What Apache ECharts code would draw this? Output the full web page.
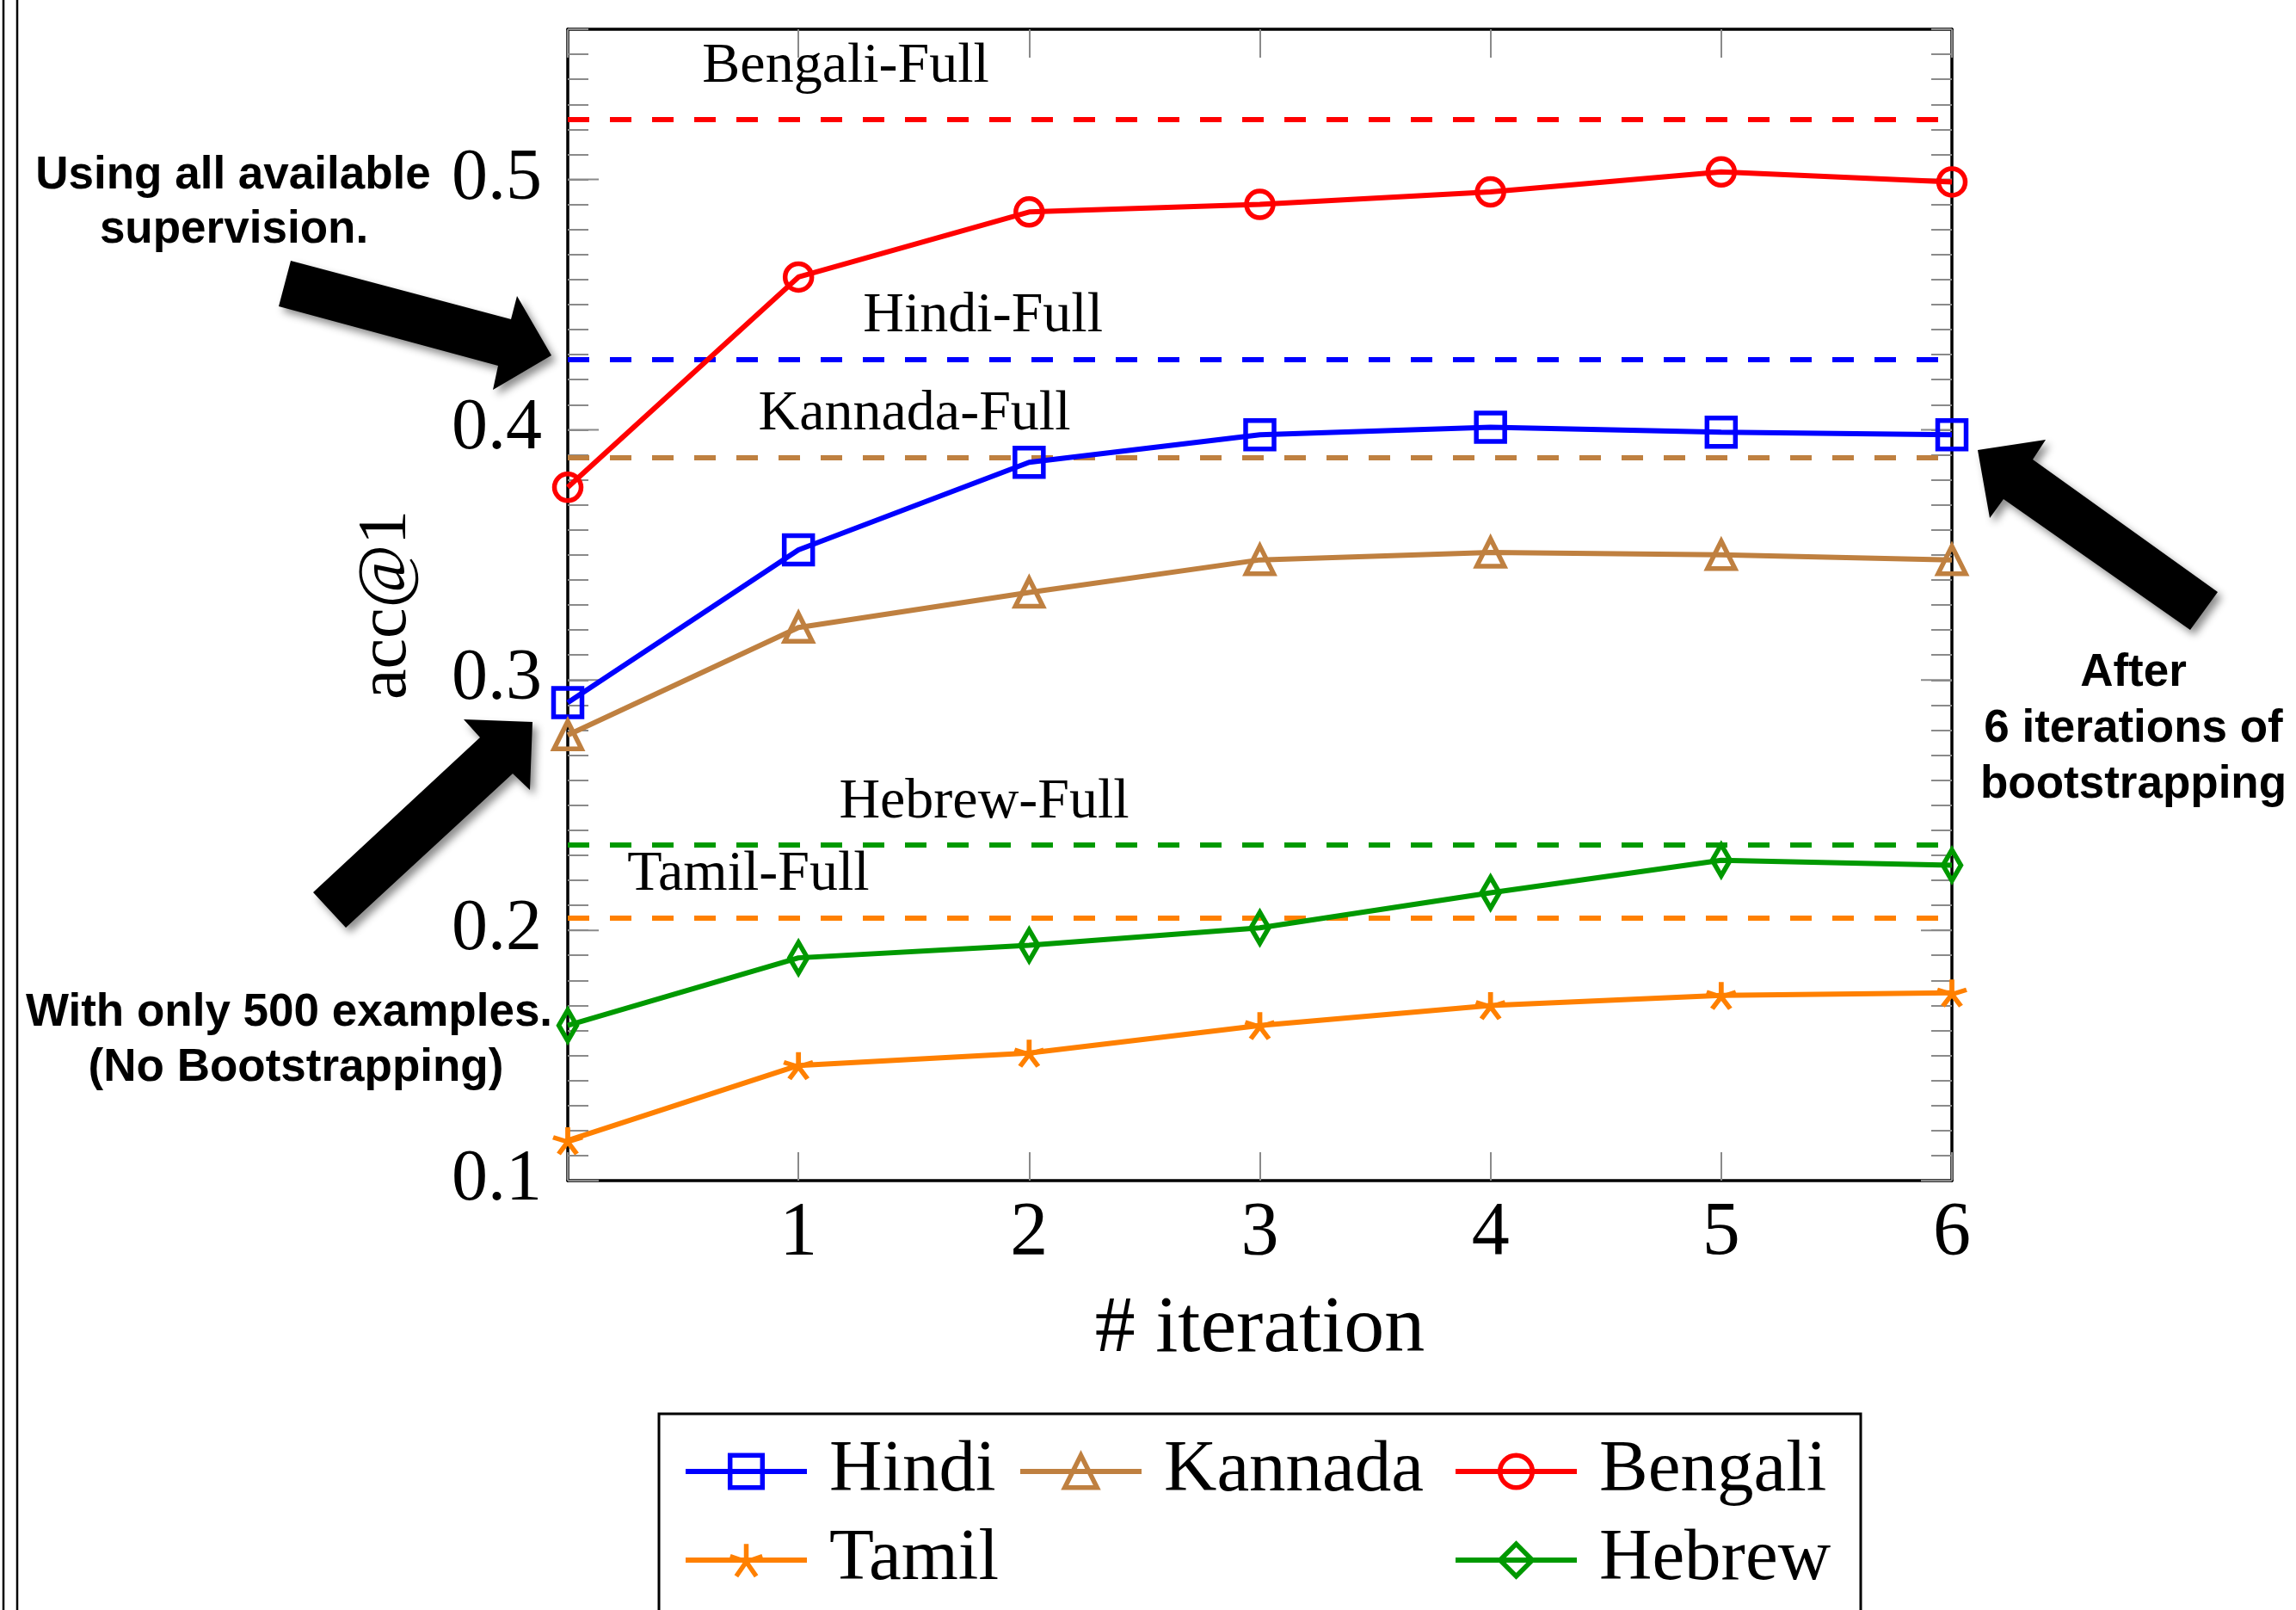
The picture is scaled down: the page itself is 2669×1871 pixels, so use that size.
<!DOCTYPE html>
<html>
<head>
<meta charset="utf-8">
<script src="https://cdn.jsdelivr.net/npm/echarts@6/dist/echarts.min.js"></script>
<style>
html,body{margin:0;padding:0;background:#fff;}
#chart{width:2669px;height:1871px;}
</style>
</head>
<body>
<div id="chart"></div>
<script>
// ---- data ----
var iterations = [0, 1, 2, 3, 4, 5, 6];
var hindi   = [0.291, 0.352, 0.387, 0.398, 0.401, 0.399, 0.398];
var kannada = [0.278, 0.321, 0.335, 0.348, 0.351, 0.350, 0.348];
var bengali = [0.377, 0.461, 0.487, 0.490, 0.495, 0.503, 0.499];
var tamil   = [0.116, 0.146, 0.151, 0.162, 0.170, 0.174, 0.175];
var hebrew  = [0.162, 0.189, 0.194, 0.201, 0.215, 0.228, 0.226];
var seriesNames = ['Hindi', 'Kannada', 'Bengali', 'Tamil', 'Hebrew'];
var fullNames = ['Hindi-Full', 'Kannada-Full', 'Bengali-Full', 'Tamil-Full', 'Hebrew-Full'];
var fullValues = [0.428, 0.389, 0.524, 0.205, 0.234];
var yMajorTicks = [0.1, 0.2, 0.3, 0.4, 0.5];
var yTickLabels = ['0.1', '0.2', '0.3', '0.4', '0.5'];
var xTickLabels = ['1', '2', '3', '4', '5', '6'];

// ---- styling / layout ----
var serif = 'Liberation Serif';
var sans = 'Liberation Sans';
var colors = ['#0000FF', '#BF8040', '#FF0000', '#FF8000', '#009900'];
var symbols = [
  'rect',
  'triangle',
  'circle',
  'path://M0,0 L0,-1 M0,0 L0.951,-0.309 M0,0 L0.588,0.809 M0,0 L-0.588,0.809 M0,0 L-0.951,-0.309',
  'path://M0,-19 L11,0 L0,19 L-11,0 Z'
];
var symbolSizes = [33, 32, 31, [34, 31], 36];
var lineW = 6;
var markW = 5.5;
// label anchors (data coords) for the "-Full" reference line captions
var fullLabelAnchor = [[1.80, 0.4452], [1.503, 0.4062], [1.205, 0.545], [0.783, 0.2222], [1.805, 0.2509]];
var dataSets = [hindi, kannada, bengali, tamil, hebrew];

function pairs(arr) { return iterations.map(function (x, i) { return [x, arr[i]]; }); }

var series = seriesNames.map(function (name, i) {
  return {
    name: name,
    type: 'line',
    data: pairs(dataSets[i]),
    xAxisIndex: 0,
    yAxisIndex: 0,
    clip: false,
    symbol: symbols[i],
    symbolSize: symbolSizes[i],
    symbolKeepAspect: i === 4,
    showAllSymbol: true,
    lineStyle: { color: colors[i], width: lineW },
    itemStyle: { color: 'transparent', borderColor: colors[i], borderWidth: markW },
    emphasis: { disabled: true },
    animation: false,
    z: 3,
    markLine: {
      silent: true,
      precision: 4,
      symbol: ['none', 'none'],
      label: { show: false },
      lineStyle: { color: colors[i], width: 6, type: [25, 24] },
      data: [{ yAxis: fullValues[i] }],
      animation: false,
      z: 2
    },
    markPoint: {
      silent: true,
      animation: false,
      data: [{
        coord: fullLabelAnchor[i],
        symbol: 'rect',
        symbolSize: 1,
        itemStyle: { color: 'transparent' },
        label: {
          show: true, position: 'inside', formatter: fullNames[i],
          color: '#000', fontSize: 66, fontFamily: serif
        }
      }]
    }
  };
});

function isMajor(v) { return Math.abs(v * 10 - Math.round(v * 10)) < 1e-6 && v < 0.555; }

var tickGray = '#8a8a8a';
var frame = { show: true, onZero: false, lineStyle: { color: '#000', width: 3.5 } };

var legendCols = [794, 1183, 1689];
var legendRows = [1710, 1813];
var legendPlace = [[0, 0], [1, 0], [2, 0], [0, 1], [2, 1]];
var legends = seriesNames.map(function (name, i) {
  return {
    data: [name],
    left: legendCols[legendPlace[i][0]],
    top: legendRows[legendPlace[i][1]] - 45,
    orient: 'horizontal',
    itemWidth: 141,
    itemHeight: 47,
    selectedMode: false,
    padding: 0,
    lineStyle: { width: lineW },
    itemStyle: { borderWidth: markW },
    textStyle: { fontFamily: serif, fontSize: 85, color: '#000', lineHeight: 90, padding: [0, 0, 0, 21] }
  };
});

var option = {
  backgroundColor: '#fff',
  animation: false,
  grid: { left: 660, right: 400, top: 34, bottom: 499, containLabel: false },
  legend: legends,
  xAxis: [
    {
      type: 'value', position: 'bottom', min: 0, max: 6, interval: 1,
      axisLine: frame,
      axisTick: { show: true, inside: true, length: 33, lineStyle: { color: tickGray, width: 2 } },
      axisLabel: {
        fontFamily: serif, fontSize: 88, color: '#000', margin: 18,
        formatter: function (v) { var k = Math.round(v); return k >= 1 ? xTickLabels[k - 1] : ''; }
      },
      splitLine: { show: false },
      name: '# iteration', nameLocation: 'middle', nameGap: 126,
      nameTextStyle: { fontFamily: serif, fontSize: 94, color: '#000' }
    },
    {
      type: 'value', position: 'top', min: 0, max: 6, interval: 1,
      axisLine: frame,
      axisTick: { show: true, inside: true, length: 33, lineStyle: { color: tickGray, width: 2 } },
      axisLabel: { show: false }, splitLine: { show: false }
    }
  ],
  yAxis: [
    {
      type: 'value', position: 'left', min: 0.1, max: 0.56, interval: 0.01,
      axisLine: frame,
      axisTick: { show: true, inside: true, length: 24, lineStyle: { color: tickGray, width: 2 } },
      axisLabel: {
        fontFamily: serif, fontSize: 84, color: '#000', margin: 30,
        formatter: function (v) { return isMajor(v) ? yTickLabels[Math.round(v * 10) - 1] : ''; }
      },
      splitLine: { show: false },
      name: 'acc@1', nameLocation: 'middle', nameRotate: 90, nameGap: 170,
      nameTextStyle: { fontFamily: serif, fontSize: 80, color: '#000' }
    },
    {
      type: 'value', position: 'right', min: 0.1, max: 0.56, interval: 0.01,
      axisLine: frame,
      axisTick: { show: true, inside: true, length: 24, lineStyle: { color: tickGray, width: 2 } },
      axisLabel: { show: false }, splitLine: { show: false }
    }
  ],
  series: series
};

var arrowStyle = { fill: '#000', shadowBlur: 10, shadowColor: 'rgba(0,0,0,0.45)', shadowOffsetX: 5, shadowOffsetY: 6 };
var noteFont = 'bold 53px "' + sans + '"';
function note(text, x, y) {
  return { type: 'text', silent: true, z: 10, style: { text: text, x: x, y: y, font: noteFont, fill: '#000', textAlign: 'center', textVerticalAlign: 'middle' } };
}
var graphics = [
  // figure frame lines at the left edge
  { type: 'line', silent: true, shape: { x1: 4, y1: 0, x2: 4, y2: 1871 }, style: { stroke: '#000', lineWidth: 2.5 } },
  { type: 'line', silent: true, shape: { x1: 20, y1: 0, x2: 20, y2: 1871 }, style: { stroke: '#000', lineWidth: 2.5 } },
  // legend box
  { type: 'rect', silent: true, z: 0, shape: { x: 766, y: 1643, width: 1397, height: 320 }, style: { fill: 'none', stroke: '#000', lineWidth: 3 } },
  // arrows
  { type: 'polygon', silent: true, z: 10, shape: { points: [[338, 303], [594, 371], [601, 344], [641, 413], [573, 453], [579, 425], [324, 356]] }, style: arrowStyle },
  { type: 'polygon', silent: true, z: 10, shape: { points: [[402, 1078], [364, 1037], [558, 857], [539, 836], [619, 839], [616, 918], [596, 899]] }, style: arrowStyle },
  { type: 'polygon', silent: true, z: 10, shape: { points: [[2299, 523], [2378, 511], [2363, 534], [2578, 688], [2546, 732], [2329, 580], [2313, 602]] }, style: arrowStyle },
  // notes
  note('Using all available', 271, 204),
  note('supervision.', 272, 267),
  note('With only 500 examples.', 336, 1177),
  note('(No Bootstrapping)', 344, 1241),
  note('After', 2480, 782),
  note('6 iterations of', 2480, 847),
  note('bootstrapping', 2480, 912)
];
option.graphic = graphics;

var chart = echarts.init(document.getElementById('chart'), null, { renderer: 'canvas', width: 2669, height: 1871 });
chart.setOption(option);

// longer major ticks on the left and right frame, placed through the axis scales
var xLeft = chart.convertToPixel({ xAxisIndex: 0 }, 0);
var xRight = chart.convertToPixel({ xAxisIndex: 0 }, 6);
yMajorTicks.forEach(function (v) {
  var py = chart.convertToPixel({ yAxisIndex: 0 }, v);
  graphics.push({ type: 'line', silent: true, z: 1, shape: { x1: xLeft, y1: py, x2: xLeft + 36, y2: py }, style: { stroke: tickGray, lineWidth: 2 } });
  graphics.push({ type: 'line', silent: true, z: 1, shape: { x1: xRight - 36, y1: py, x2: xRight, y2: py }, style: { stroke: tickGray, lineWidth: 2 } });
});
chart.setOption({ graphic: graphics });
</script>
</body>
</html>
